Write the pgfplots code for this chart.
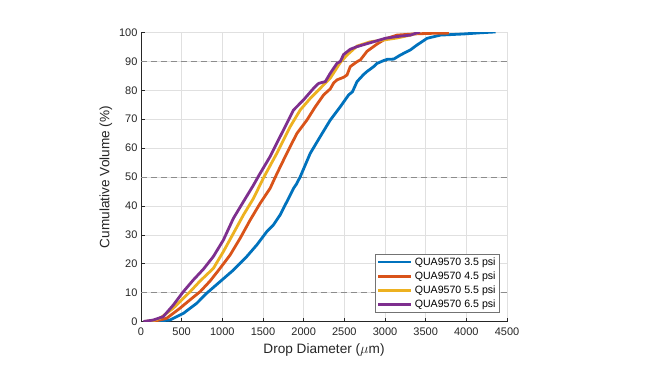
\documentclass[border=0pt]{standalone}
\usepackage{pgfplots}
\pgfplotsset{compat=1.18}
\usepackage{fontspec}
\setmainfont{Liberation Sans}
\definecolor{mblue}{rgb}{0,0.447,0.741}
\definecolor{morange}{rgb}{0.85,0.325,0.098}
\definecolor{myellow}{rgb}{0.929,0.694,0.125}
\definecolor{mpurple}{rgb}{0.494,0.184,0.556}
\definecolor{mtext}{rgb}{0.15,0.15,0.15}
\begin{document}
\begin{tikzpicture}[x=1pt,y=1pt]
\path[use as bounding box, fill=white] (0,0) rectangle (660,370);
\begin{axis}[
  at={(141pt,48.5pt)}, anchor=south west,
  width=366pt, height=289pt, scale only axis,
  xmin=0, xmax=4500, ymin=0, ymax=100,
  xtick={0,500,...,4500}, ytick={0,10,...,100},
  axis lines*=left,
  axis line style={-, draw=mtext, line width=0.5pt},
  tick style={draw=mtext, line width=0.5pt},
  major tick length=4pt,
  tick align=inside,
  grid=major,
  major grid style={draw=black!12, line width=0.5pt},
  /pgf/number format/1000 sep={},
  /pgf/number format/assume math mode=true,
  ticklabel style={font=\fontsize{11}{13}\selectfont, text=mtext},
  xticklabel style={yshift=-2.5pt},
  label style={font=\fontsize{13.6}{16}\selectfont, text=mtext},
  xlabel style={yshift=-1pt},
  xlabel={Drop Diameter ($\mu$m)},
  ylabel={Cumulative Volume (\%)},
  legend cell align=left,
  legend style={at={(0.979,0.03)}, anchor=south east, draw=black!55, line width=0.5pt,
    font=\fontsize{10.6}{12.7}\selectfont, text=black, inner sep=1.5pt, row sep=1pt},
  legend image code/.code={\draw[#1] (0pt,0pt) -- (33pt,0pt);},
]
\addplot[draw=black!45, dash pattern=on 6pt off 4pt, line width=0.6pt, forget plot] coordinates {(0,10) (4500,10)};
\addplot[draw=black!45, dash pattern=on 6pt off 4pt, line width=0.6pt, forget plot] coordinates {(0,50) (4500,50)};
\addplot[draw=black!45, dash pattern=on 6pt off 4pt, line width=0.6pt, forget plot] coordinates {(0,90) (4500,90)};

\addplot[mblue, line width=2.8pt] coordinates {
(55,0) (200,0.2) (356,0.5) (520,2.8) (685,6.3) (808,9.8) (972,13.8) (1136,17.8) (1301,22.5) (1424,26.5)
(1547,31.1) (1630,33.5) (1711,36.9) (1794,41.5) (1876,46.1) (1910,47.5) (1958,50.1) (2081,58.2) (2204,64)
(2327,69.7) (2450,74.3) (2553,78.4) (2600,79.5) (2656,83) (2738,85.5) (2779,86.5) (2861,88.2) (2902,89.3) (2984,90.3) (3025,90.7) (3107,90.8)
(3189,92.2) (3313,94) (3395,95.7) (3518,98) (3682,99.1) (3970,99.5) (4175,99.9) (4360,100.2)};
\addlegendentry{QUA9570 3.5 psi}

\addplot[morange, line width=2.8pt] coordinates {
(50,0) (180,0.2) (315,1.1) (479,4.6) (603,7.5) (726,10.3) (849,14) (972,18.4) (1095,23) (1219,28.8)
(1342,35.1) (1465,40.9) (1588,46.1) (1650,49.9) (1720,54) (1793,58.2) (1917,65.1) (2040,69.7) (2143,74.3) (2245,78.4)
(2327,80.5) (2368,82.5) (2409,83.6) (2491,84.5) (2533,85.3) (2573,88.2) (2656,89.9) (2697,90.5) (2779,93.5) (2902,96.0)
(3005,97.8) (3148,99.1) (3354,99.5) (3559,99.7) (3785,99.8)};
\addlegendentry{QUA9570 4.5 psi}

\addplot[myellow, line width=2.8pt] coordinates {
(45,0) (150,0.3) (233,1.1) (397,4.6) (603,10.3) (726,14) (890,18.4) (1013,24.2) (1136,30.5) (1260,36.9)
(1383,42.6) (1506,49.7) (1670,58.2) (1834,67.4) (1958,73.2) (2081,77.2) (2225,81.3) (2327,84.2) (2450,89.6) (2533,92.2)
(2656,95.3) (2820,96.8) (2984,97.4) (3148,98.1) (3313,99.1) (3415,100)};
\addlegendentry{QUA9570 5.5 psi}

\addplot[mpurple, line width=2.8pt] coordinates {
(30,0) (150,0.5) (274,1.7) (397,5.7) (520,10.3) (644,14.4) (767,18.1) (890,22.5) (1013,28.2) (1136,35.7)
(1260,41.5) (1383,47.2) (1453,50.7) (1588,57.1) (1752,66.3) (1876,73.2) (1999,76.7) (2122,80.7) (2184,82.4) (2266,83)
(2327,85.9) (2409,89.3) (2450,90) (2492,92.4) (2573,94.2) (2656,95.1) (2738,95.8) (2861,96.8) (3005,98) (3148,98.6)
(3313,99.1) (3428,100.2)};
\addlegendentry{QUA9570 6.5 psi}
\end{axis}
\end{tikzpicture}
\end{document}
